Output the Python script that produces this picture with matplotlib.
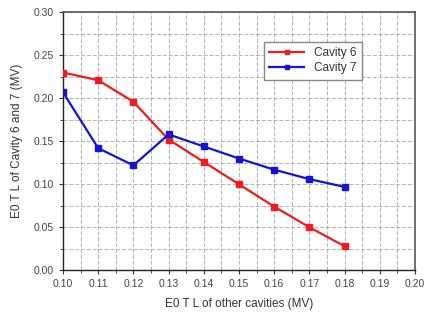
import matplotlib
matplotlib.use("Agg")
import matplotlib.pyplot as plt
from matplotlib.ticker import MultipleLocator

x_vals = [0.10, 0.11, 0.12, 0.13, 0.14, 0.15, 0.16, 0.17, 0.18]
cavity6 = [0.230, 0.221, 0.196, 0.152, 0.126, 0.100, 0.074, 0.050, 0.028]
cavity7 = [0.207, 0.142, 0.122, 0.158, 0.144, 0.130, 0.117, 0.106, 0.097]

plt.rcParams.update({"font.family": "Liberation Sans", "font.size": 7.5})
fig = plt.figure(figsize=(4.27, 3.13), dpi=100)
ax = fig.add_axes([0.1475, 0.1364, 0.8245, 0.8243])

ax.plot(x_vals, cavity6, color="#ee1c1c", lw=1.6, marker="s", ms=5, label="Cavity 6", zorder=3)
ax.plot(x_vals, cavity7, color="#1414d8", lw=1.6, marker="s", ms=5, label="Cavity 7", zorder=3)

ax.set_xlim(0.10, 0.20)
ax.set_ylim(0.0, 0.30)
ax.xaxis.set_major_locator(MultipleLocator(0.01))
ax.xaxis.set_minor_locator(MultipleLocator(0.005))
ax.yaxis.set_major_locator(MultipleLocator(0.05))
ax.yaxis.set_minor_locator(MultipleLocator(0.025))
ax.xaxis.set_major_formatter(lambda v, p: f"{v:.2f}")
ax.yaxis.set_major_formatter(lambda v, p: f"{v:.2f}")

ax.grid(which="both", color="#a8a8a8", ls=(0, (5, 2)), lw=0.6, zorder=0)
ax.tick_params(which="major", length=3, width=0.8, colors="#333333", labelcolor="#444444")
ax.tick_params(which="minor", length=2, width=0.6, colors="#333333")
for s in ["left", "bottom"]:
    ax.spines[s].set_color("#222222")
    ax.spines[s].set_linewidth(1.0)
for s in ["top", "right"]:
    ax.spines[s].set_color("#555555")
    ax.spines[s].set_linewidth(1.2)

ax.set_xlabel("E0 T L of other cavities (MV)", fontsize=8.5, color="#333333", labelpad=6)
ax.set_ylabel("E0 T L of Cavity 6 and 7 (MV)", fontsize=8.5, color="#333333", labelpad=8)

leg = ax.legend(loc="upper left", bbox_to_anchor=(0.553, 0.908), fontsize=8.5,
                handlelength=3.0, fancybox=False, framealpha=1, edgecolor="#888888",
                borderpad=0.45, labelspacing=0.25, markerscale=0.6)
for t in leg.get_texts():
    t.set_color("#333333")

fig.savefig("out.png", dpi=100, facecolor="white")
